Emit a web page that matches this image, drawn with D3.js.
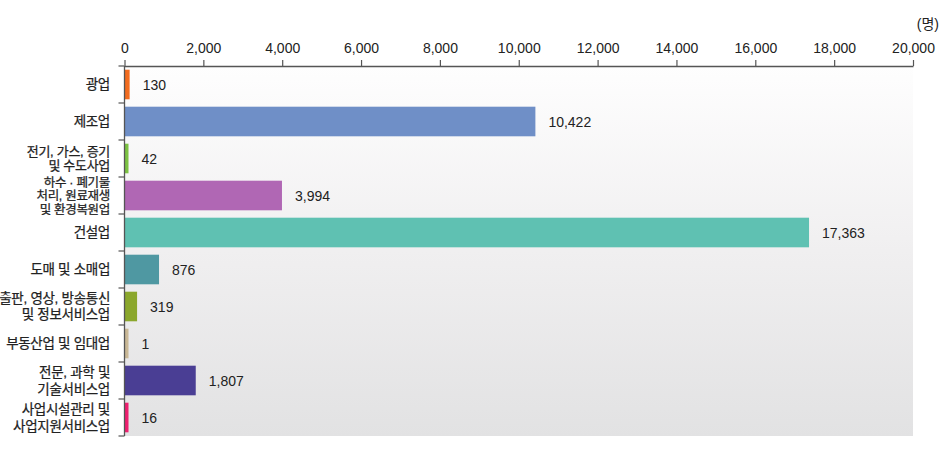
<!DOCTYPE html>
<html><head><meta charset="utf-8">
<script src="https://cdn.jsdelivr.net/npm/d3@7"></script>
<style>
html,body{margin:0;padding:0;background:#fff;}
text{font-family:"Liberation Sans","Noto Sans CJK KR",sans-serif;fill:#222;}
text.cat{letter-spacing:-0.3px;stroke:#222;stroke-width:0.25px;}
</style></head>
<body><svg id="c" width="945" height="449"></svg>
<script>
const categories = [
  ["광업"],
  ["제조업"],
  ["전기, 가스, 증기","및 수도사업"],
  ["하수 · 폐기물","처리, 원료재생","및 환경복원업"],
  ["건설업"],
  ["도매 및 소매업"],
  ["출판, 영상, 방송통신","및 정보서비스업"],
  ["부동산업 및 임대업"],
  ["전문, 과학 및","기술서비스업"],
  ["사업시설관리 및","사업지원서비스업"]
];
const values = [130, 10422, 42, 3994, 17363, 876, 319, 1, 1807, 16];
const colors = ["#f26c1f","#6f8fc7","#7cc242","#b067b4","#5fc1b2","#4f98a2","#8ba72c","#c9b896","#4a3e94","#ee1f6f"];
const xTicks = [0,2000,4000,6000,8000,10000,12000,14000,16000,18000,20000];
const unitLabel = "(명)";
// label line spacing (style): tighter for the crowded labels
const labelLineHeight = [16,16,14,13.5,16,16,16,16,16.5,17];
const labelFontSize = [13.5,13.5,13,12.5,13.5,13.5,13.5,13.5,13.5,13.5];

const svg = d3.select("#c");
const m = {l:124.5, r:913, t:66, b:436};
const x = d3.scaleLinear().domain([0,20000]).range([m.l, m.r]);
const ids = categories.map((d,i)=>i);
const y = d3.scaleBand().domain(ids).range([m.t, m.b]).paddingInner(0.2).paddingOuter(0.1);

const defs = svg.append("defs");
const g = defs.append("linearGradient").attr("id","bg").attr("x1",0).attr("y1",0).attr("x2",0).attr("y2",1);
g.append("stop").attr("offset","0%").attr("stop-color","#fefefe");
g.append("stop").attr("offset","50%").attr("stop-color","#f0eff0");
g.append("stop").attr("offset","100%").attr("stop-color","#e2e2e3");
svg.append("rect").attr("x",m.l).attr("y",m.t).attr("width",m.r-m.l).attr("height",m.b-m.t).attr("fill","url(#bg)");

// bars
svg.selectAll("rect.bar").data(values).join("rect").attr("class","bar")
  .attr("x",x(0)).attr("y",(d,i)=>y(i))
  .attr("width",d=>Math.max(x(d)-x(0),4)).attr("height",y.bandwidth())
  .attr("fill",(d,i)=>colors[i]);

// value labels
svg.selectAll("text.val").data(values).join("text").attr("class","val")
  .attr("x",d=>Math.max(x(d),x(0)+4)+13).attr("y",(d,i)=>y(i)+y.bandwidth()/2)
  .attr("dy","0.36em").attr("font-size",14).text(d=>d3.format(",")(d));

// top axis
const ax = svg.append("g").attr("transform",`translate(0,${m.t})`)
  .call(d3.axisTop(x).tickValues(xTicks).tickFormat(d3.format(",")).tickSize(6).tickSizeOuter(0));
ax.select(".domain").attr("stroke","#555").attr("stroke-width",1.3);
ax.selectAll(".tick line").attr("stroke","#555").attr("stroke-width",1.2);
ax.selectAll(".tick text").attr("font-size",14).attr("fill","#222").attr("dy","-0.3em")
  .style("font-family","'Liberation Sans',sans-serif");

svg.append("text").attr("x",939).attr("y",29).attr("text-anchor","end").attr("font-size",14).text(unitLabel);

// left axis line with boundary ticks
const step = (m.b-m.t)/categories.length;
svg.append("line").attr("x1",m.l).attr("x2",m.l).attr("y1",m.t).attr("y2",m.b).attr("stroke","#555").attr("stroke-width",1.3);
const bounds = d3.range(categories.length+1).map(i=>m.t+i*step);
svg.selectAll("line.bt").data(bounds).join("line").attr("class","bt")
  .attr("x1",m.l-6).attr("x2",m.l).attr("y1",d=>d).attr("y2",d=>d).attr("stroke","#555").attr("stroke-width",1.2);

// category labels
categories.forEach((lines,i)=>{
  const cy = m.t + (i+0.5)*step;
  const lh = labelLineHeight[i];
  const t = svg.append("text").attr("class","cat").attr("text-anchor","end").attr("font-size",labelFontSize[i]);
  lines.forEach((ln,j)=>{
    t.append("tspan").attr("x",110).attr("y",cy+(j-(lines.length-1)/2)*lh).attr("dy","0.36em").text(ln);
  });
});
</script></body></html>
